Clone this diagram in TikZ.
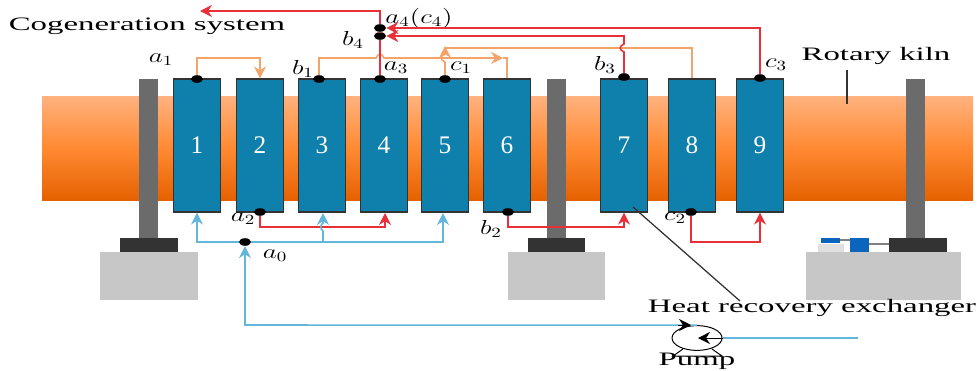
\documentclass[tikz,border=0pt]{standalone}
\usepackage{fontspec}
\setmainfont{Liberation Serif}
\usetikzlibrary{arrows.meta,shapes.geometric}
\definecolor{blockblue}{HTML}{0F7FAB}
\definecolor{hotred}{HTML}{E8303A}
\definecolor{warmorange}{HTML}{F4A469}
\definecolor{coldblue}{HTML}{62B6DC}
\tikzset{
  block/.style={draw=black!80,fill=blockblue,line width=0.8pt,minimum width=1.19cm,minimum height=3.325cm,inner sep=0pt,text=white,font=\fontsize{18}{18}\selectfont},
  dot/.style={ellipse,fill=black,minimum width=0.3cm,minimum height=0.19cm,inner sep=0pt},
  caption/.style={transform shape,xscale=1.73,inner sep=0pt,font=\fontsize{13.5}{15}\selectfont},
  lab/.style={transform shape,xscale=1.35,inner sep=0pt,font=\fontsize{14.5}{16}\selectfont},
  hotline/.style={draw=hotred,line width=1.1pt},
  warmline/.style={draw=warmorange,line width=1.1pt},
  coldline/.style={draw=coldblue,line width=1.1pt},
  post/.style={fill=black!58},
  foot/.style={fill=black!80},
  base/.style={fill=black!22}
}
\begin{document}
\begin{tikzpicture}[x=0.025cm,y=-0.025cm,>={Stealth[length=0.3cm,width=0.3cm]}]
\useasboundingbox (0,0) rectangle (979,370);
% kiln and supports
\shade[top color=orange!45!white!90!red,bottom color=orange!85!red!90!black,middle color=orange!85!red!80!white] (42,96) rectangle (973,200);
\fill[post] (139,79) rectangle (158,238);
\fill[foot] (120,238) rectangle (178,252);
\fill[base] (100,252) rectangle (198,300);
\fill[post] (547,79) rectangle (566,238);
\fill[foot] (528,238) rectangle (585,252);
\fill[base] (508,252) rectangle (605,300);
\fill[post] (906,79) rectangle (925,238);
\fill[foot] (889,238) rectangle (947,252);
\fill[base] (806,252) rectangle (961,300);
% motor
\fill[black!12] (818,244) rectangle (844,252);
\fill[blockblue!80!blue] (821,238) rectangle (840,243);
\fill[blockblue!80!blue] (850,238) rectangle (869,252);
\draw[black!50,line width=1pt] (840,240) -- (850,240);
\draw[black!50,line width=1.5pt] (869,244) -- (889,244);
% exchangers
\node[block] (blk1) at (197,145.5) {1};
\node[block] (blk2) at (260,145.5) {2};
\node[block] (blk3) at (322,145.5) {3};
\node[block] (blk4) at (384,145.5) {4};
\node[block] (blk5) at (445,145.5) {5};
\node[block] (blk6) at (507,145.5) {6};
\node[block] (blk7) at (624,145.5) {7};
\node[block] (blk8) at (692,145.5) {8};
\node[block] (blk9) at (760,145.5) {9};
% junctions
\node[dot] (a0) at (245,242) {};
\node[dot] (a1) at (197,79) {};
\node[dot] (a2) at (260,212) {};
\node[dot] (a3) at (380,79) {};
\node[dot] (a4) at (380,28) {};
\node[dot] (b1) at (319,79) {};
\node[dot] (b2) at (508,212) {};
\node[dot] (b3) at (624,77) {};
\node[dot] (b4) at (380,36) {};
\node[dot] (c1) at (445,79) {};
\node[dot] (c2) at (691,212) {};
\node[dot] (c3) at (760,78) {};
\node[ellipse,draw=black,line width=0.7pt,minimum width=1.25cm,minimum height=0.62cm,inner sep=0pt] (pump) at (697,338) {};
% texts
\node[caption] (cogen) at (147,26) {Cogeneration system};
\node[caption] (kiln) at (876,56) {Rotary kiln};
\node[caption] (heat) at (812,308) {Heat recovery exchanger};
\node[caption] (pumplab) at (697,361) {Pump};
\node[lab] (la0) at (275,256) {$a_0$};
\node[lab] (la1) at (161,60) {$a_1$};
\node[lab] (la2) at (243,219) {$a_2$};
\node[lab] (la3) at (396,68) {$a_3$};
\node[lab] (la4) at (419,18) {$a_4(c_4)$};
\node[lab] (lb1) at (303,69) {$b_1$};
\node[lab] (lb2) at (491,229) {$b_2$};
\node[lab] (lb3) at (605,65) {$b_3$};
\node[lab] (lb4) at (353,40) {$b_4$};
\node[lab] (lc1) at (461,68) {$c_1$};
\node[lab] (lc2) at (675,218) {$c_2$};
\node[lab] (lc3) at (776,65) {$c_3$};
% free ends
\coordinate (out) at (200,11);
\coordinate (feed) at (858,338);
\coordinate (mid6) at (503,58);
% warm lines
\draw[warmline,->] (a1) -- (197,58) -- (260,58) -- (blk2.north);
\draw[warmline,->] (b1) -- (319,58) -- (376,58) .. controls (378,53) and (382,53) .. (384,58) -- (mid6);
\draw[warmline] (mid6) -- (507,58) -- (blk6.north);
\draw[warmline,->] (c1) -- (445,62) .. controls (440,60) and (440,56) .. (445,54) -- (445,46);
\draw[warmline] (blk8.north) -- (692,48) -- (445,48);
% hot lines
\draw[hotline,->] (a3) -- (b4) -- (a4) -- (380,11) -- (out);
\draw[hotline,->] (c3) -- (760,28) -- (a4);
\draw[hotline,->] (b3) -- (624,52) .. controls (619,50) and (619,46) .. (624,44) -- (624,36) -- (b4);
\draw[hotline,->] (a2) -- (260,227) -- (385,227) -- (385,213);
\draw[hotline,->] (b2) -- (508,227) -- (624,227) -- (blk7.south);
\draw[hotline,->] (c2) -- (691,242) -- (760,242) -- (blk9.south);
% cold lines
\draw[coldline,->] (a0) -- (197,242) -- (blk1.south);
\draw[coldline,->] (a0) -- (443,242) -- (443,213);
\draw[coldline,->] (323,242) -- (323,231) .. controls (320,229) and (320,225) .. (323,223) -- (323,213);
\draw[coldline,->] (pump.north) -- (245,325) -- (a0);
\draw[coldline] (feed) -- (pump.east);
% pump details
\draw[->,black,line width=0.7pt] (pump.east) -- (698,338);
\draw[->,black,line width=0.7pt] (678,325) -- (691,325);
\draw[black,line width=0.7pt] (683,349) -- (673,356) -- (722,356) -- (712,349);
% leaders
\draw[black!80,line width=0.9pt] (633,207) -- (740,301);
\draw[black!80,line width=0.9pt] (847,70) -- (847,104);
\end{tikzpicture}
\end{document}
